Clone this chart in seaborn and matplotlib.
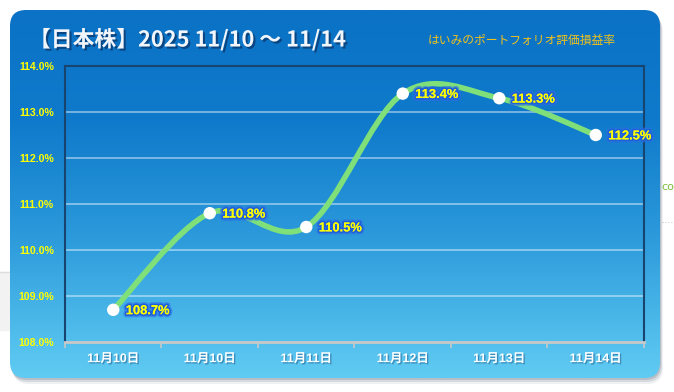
import numpy as np
import matplotlib
matplotlib.use("Agg")
import matplotlib.pyplot as plt
import matplotlib.patheffects as pe
from matplotlib.patches import FancyBboxPatch, PathPatch, Rectangle
from matplotlib.path import Path
from matplotlib.colors import LinearSegmentedColormap
import seaborn as sns

# データ
dates = ["11月10日", "11月10日", "11月11日", "11月12日", "11月13日", "11月14日"]
rates = [108.7, 110.8, 110.5, 113.4, 113.3, 112.5]
y_ticks = [108.0, 109.0, 110.0, 111.0, 112.0, 113.0, 114.0]
title = "【日本株】2025 11/10 ～ 11/14"
subtitle = "はいみのポートフォリオ評価損益率"

W, H = 674, 392
sns.set_theme(style="white")
plt.rcParams["font.family"] = ["Liberation Sans", "Noto Sans CJK JP"]

fig = plt.figure(figsize=(W / 100, H / 100), dpi=100)
fig.patch.set_facecolor("white")

# 背景 (カード + グラデーション)
bg = fig.add_axes([0, 0, 1, 1])
bg.set_xlim(0, W)
bg.set_ylim(H, 0)
bg.axis("off")

bg.add_patch(Rectangle((0, 272), 10, 58, color="#f2f2f2", zorder=0))
bg.plot([0, 10], [272, 272], color="#dddddd", lw=1, zorder=0)
bg.plot([662, 674], [222, 222], color="#cccccc", lw=0.8, ls=":", zorder=0)
bg.text(661, 187, "co", family=["DejaVu Sans"], color="#7dbe3c", fontsize=8,
        va="center", zorder=0)

for off, a in [(6, 0.08), (4, 0.12), (2, 0.18)]:
    bg.add_patch(FancyBboxPatch((10 + off * 0.5, 10 + off), 650, 368,
                                boxstyle="round,pad=0,rounding_size=16",
                                fc="#30405a", ec="none", alpha=a, zorder=1))

card = FancyBboxPatch((10, 10), 650, 368, boxstyle="round,pad=0,rounding_size=16",
                      fc="none", ec="none", zorder=2)
bg.add_patch(card)
cmap = LinearSegmentedColormap.from_list(
    "card", [(0.0, "#0b72c5"), (0.3, "#0f7acb"), (0.6, "#2a98da"), (1.0, "#60ccf3")])
grad = np.linspace(0, 1, 256).reshape(-1, 1)
im = bg.imshow(grad, cmap=cmap, extent=[10, 660, 378, 10], aspect="auto", zorder=2)
im.set_clip_path(card)

bg.text(29, 40, title, family=["Noto Sans CJK JP"], fontsize=15.7, weight="bold",
        color="#f2f6fb", va="center", ha="left", zorder=5,
        path_effects=[pe.SimplePatchShadow(offset=(1.5, -1.5), shadow_rgbFace="#0a3a70", alpha=0.8),
                      pe.Normal()])
bg.text(428, 40, subtitle, family=["Noto Sans CJK JP"], fontsize=8.5,
        color="#f2c21a", va="center", ha="left", zorder=5)

# グラフ本体
left, right, top, bottom = 65, 644, 66, 342
ax = fig.add_axes([left / W, (H - bottom) / H, (right - left) / W, (bottom - top) / H])
ax.set_facecolor("none")
x = np.arange(len(rates))
ax.set_xlim(-0.5, len(rates) - 0.5)
ax.set_ylim(108, 114)

for yv in y_ticks[1:-1]:
    ax.axhline(yv, color="white", alpha=0.5, lw=1.2, zorder=1)

# 平滑線 (ベジェ曲線)
pts = np.column_stack([x, rates]).astype(float)
ext = np.vstack([pts[0], pts, pts[-1]])
verts = [tuple(pts[0])]
codes = [Path.MOVETO]
for i in range(len(pts) - 1):
    p0, p1, p2, p3 = ext[i], ext[i + 1], ext[i + 2], ext[i + 3]
    c1 = p1 + (p2 - p0) / 6
    c2 = p2 - (p3 - p1) / 6
    verts += [tuple(c1), tuple(c2), tuple(p2)]
    codes += [Path.CURVE4] * 3
ax.add_patch(PathPatch(Path(verts, codes), fc="none", ec="#7fe07a", lw=4,
                       capstyle="round", zorder=3))

sns.scatterplot(x=x, y=rates, s=80, color="white", edgecolor="none", zorder=4, ax=ax,
                legend=False)

for xi, v in zip(x, rates):
    ax.annotate(f"{v:.1f}%", (xi, v), xytext=(9, -1), textcoords="offset points",
                va="center", ha="left", fontsize=9.3, weight="bold", color="#ffff00",
                zorder=5,
                path_effects=[pe.withStroke(linewidth=4.5, foreground="#2d6ee6", alpha=0.6),
                              pe.withStroke(linewidth=2.4, foreground="#1f5fd8"),
                              pe.Normal()])

ax.set_yticks(y_ticks)
ax.set_yticklabels([f"{v:.1f}%" for v in y_ticks], color="#ffff00", fontsize=7.6,
                   weight="bold")
ax.set_xticks(x)
ax.set_xticklabels(dates, color="white", fontsize=9, weight="bold",
                   path_effects=[pe.SimplePatchShadow(offset=(1, -1), shadow_rgbFace="#2a6a9a",
                                                      alpha=0.6), pe.Normal()])
ax.tick_params(axis="y", length=0, pad=8)
ax.tick_params(axis="x", length=0, pad=8)
for b in np.arange(-0.5, len(rates), 1.0):
    ax.plot([b], [108], marker=3, ms=4, mew=1.2, color="#c8c8c8", clip_on=False, zorder=6)
ax.set_xlabel("")
ax.set_ylabel("")

for s in ["left", "top", "right"]:
    ax.spines[s].set_visible(True)
    ax.spines[s].set_color("#17456f")
    ax.spines[s].set_linewidth(1.5)
ax.spines["bottom"].set_visible(True)
ax.spines["bottom"].set_color("#c8c8c8")
ax.spines["bottom"].set_linewidth(2)

fig.savefig("out.png", dpi=100)
